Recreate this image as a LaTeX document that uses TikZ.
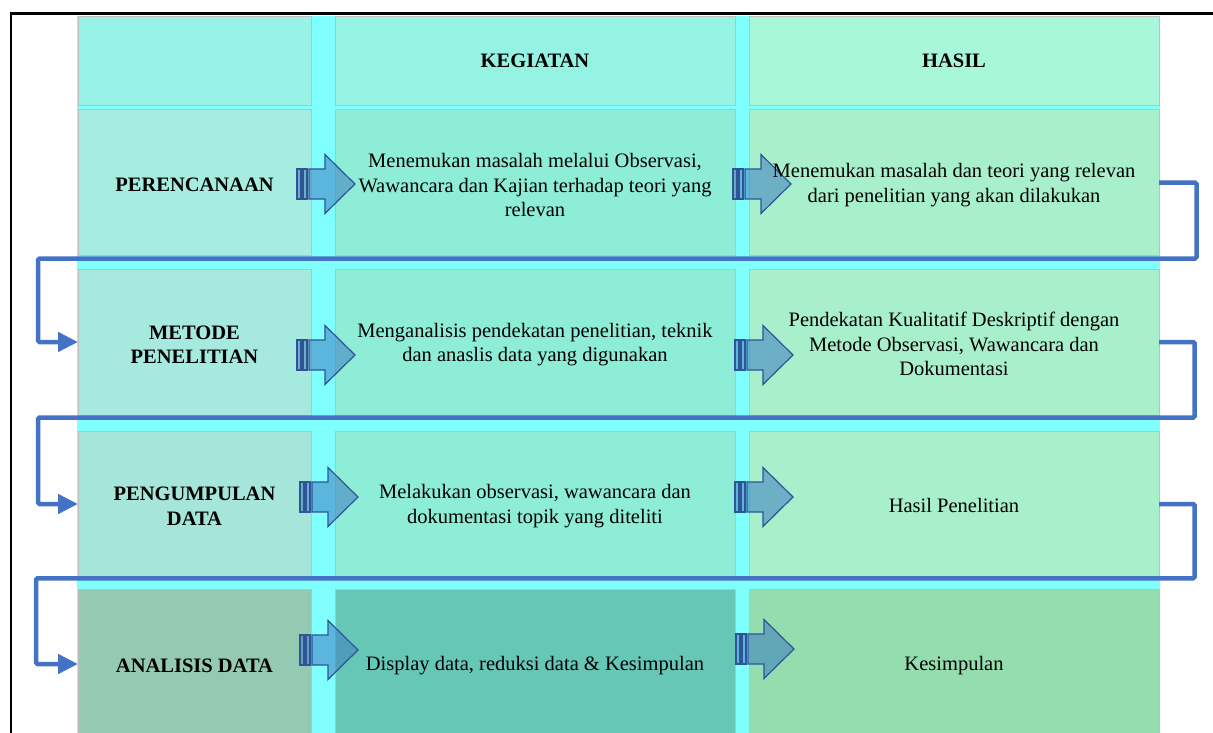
\documentclass[tikz,border=0pt]{standalone}
\usepackage{fontspec}
\setmainfont{Liberation Serif}
\usetikzlibrary{arrows.meta}
\definecolor{bgcyan}{HTML}{80FFFF}
\definecolor{hA}{HTML}{98F3E6}
\definecolor{hB}{HTML}{95F3E4}
\definecolor{hC}{HTML}{A9F7DB}
\definecolor{aA}{HTML}{A6ECE0}
\definecolor{bA}{HTML}{A6E9DF}
\definecolor{cA}{HTML}{A5E5DA}
\definecolor{mB}{HTML}{8DEDD7}
\definecolor{mC}{HTML}{A8F0CC}
\definecolor{dA}{HTML}{94CAB1}
\definecolor{dB}{HTML}{66C7B7}
\definecolor{dC}{HTML}{93DDAE}
\definecolor{connblue}{HTML}{4472C4}
\definecolor{arrfill}{HTML}{3D7AC0}
\definecolor{arrline}{HTML}{2F5597}
\newcommand{\blkarrow}[2]{%
  \draw[barr] (#1,#2-15) rectangle ++(4,30);
  \draw[barr] (#1+6,#2-15) rectangle ++(4,30);
  \draw[barr] (#1+12,#2-15) -- ++(16,0) -- ++(0,-14.5) -- (#1+58,#2)
     -- (#1+28,#2+29.5) -- ++(0,-14.5) -- (#1+12,#2+15) -- cycle;
}
\begin{document}
\begin{tikzpicture}[x=1pt,y=-1pt,
  cell/.style={draw=black!25, line width=1pt, inner sep=0pt, outer sep=0pt, anchor=north west},
  conn/.style={draw=connblue, line width=4.5pt, rounded corners=1.5pt, -{Triangle[length=20pt,width=19pt]}},
  barr/.style={draw=arrline, fill=arrfill, fill opacity=0.55, line width=1.2pt, line join=miter},
  txt/.style={font=\fontsize{20.5}{24.5}\selectfont, align=center, inner sep=0pt, text=black},
  btxt/.style={txt, font=\fontsize{20.5}{24.5}\selectfont\bfseries}]
\useasboundingbox (0,0) rectangle (1213,733);
\clip (0,0) rectangle (1213,733);
\draw[line width=2.5pt] (10.8,745) -- (10.8,13.3) -- (1225,13.3);
\fill[bgcyan] (77,16) rectangle (1160,745);
% header row
\node[cell, fill=hA, minimum width=233pt, minimum height=89pt] (c01) at (78,17) {};
\node[cell, fill=hB, minimum width=400pt, minimum height=89pt] (c02) at (335,17) {};
\node[cell, fill=hC, minimum width=410pt, minimum height=89pt] (c03) at (749,17) {};
% row 1
\node[cell, fill=aA, minimum width=233pt, minimum height=145pt] (c11) at (78,110) {};
\node[cell, fill=mB, minimum width=400pt, minimum height=145pt] (c12) at (335,110) {};
\node[cell, fill=mC, minimum width=410pt, minimum height=145pt] (c13) at (749,110) {};
% row 2
\node[cell, fill=bA, minimum width=233pt, minimum height=146pt] (c21) at (78,269) {};
\node[cell, fill=mB, minimum width=400pt, minimum height=146pt] (c22) at (335,269) {};
\node[cell, fill=mC, minimum width=410pt, minimum height=146pt] (c23) at (749,269) {};
% row 3
\node[cell, fill=cA, minimum width=233pt, minimum height=146pt] (c31) at (78,431) {};
\node[cell, fill=mB, minimum width=400pt, minimum height=146pt] (c32) at (335,431) {};
\node[cell, fill=mC, minimum width=410pt, minimum height=146pt] (c33) at (749,431) {};
% row 4
\node[cell, fill=dA, minimum width=233pt, minimum height=150pt] (c41) at (78,589) {};
\node[cell, fill=dB, minimum width=400pt, minimum height=150pt] (c42) at (335,589) {};
\node[cell, fill=dC, minimum width=410pt, minimum height=150pt] (c43) at (749,589) {};
% connectors
\coordinate (r1) at (1196.5,258.5);
\coordinate (l1) at (38,258.5);
\coordinate (r2) at (1194.7,417.5);
\coordinate (l2) at (38,417.5);
\coordinate (r3) at (1194.7,578.3);
\coordinate (l3) at (36,578.3);
\draw[conn] (c13.east) -| (r1) -- (l1) |- (c21.west);
\draw[conn] (c23.east) -| (r2) -- (l2) |- (c31.west);
\draw[conn] (c33.east) -| (r3) -- (l3) |- (c41.west);
% block arrows
\blkarrow{297}{184}
\blkarrow{733}{184}
\blkarrow{297}{355}
\blkarrow{735}{355}
\blkarrow{300}{497}
\blkarrow{735}{497}
\blkarrow{300}{650}
\blkarrow{736}{649}
% texts
\node[btxt] (t02) at ([yshift=1pt]c02.center) {KEGIATAN};
\node[btxt] (t03) at ([yshift=1pt]c03.center) {HASIL};
\node[btxt] (t11) at ([yshift=-2pt]c11.center) {PERENCANAAN};
\node[txt] (t12) at ([yshift=-2.5pt]c12.center) {Menemukan masalah melalui Observasi,\\Wawancara dan Kajian terhadap teori yang\\relevan};
\node[txt] (t13) at ([yshift=-2.5pt]c13.center) {Menemukan masalah dan teori yang relevan\\dari penelitian yang akan dilakukan};
\node[btxt] (t21) at ([yshift=-2.5pt]c21.center) {METODE\\PENELITIAN};
\node[txt] (t22) at ([yshift=-2.5pt]c22.center) {Menganalisis pendekatan penelitian, teknik\\dan anaslis data yang digunakan};
\node[txt] (t23) at ([yshift=-2pt]c23.center) {Pendekatan Kualitatif Deskriptif dengan\\Metode Observasi, Wawancara dan\\Dokumentasi};
\node[btxt] (t31) at ([yshift=-2pt]c31.center) {PENGUMPULAN\\DATA};
\node[txt] (t32) at ([yshift=-2pt]c32.center) {Melakukan observasi, wawancara dan\\dokumentasi topik yang diteliti};
\node[txt] (t33) at ([yshift=-1pt]c33.center) {Hasil Penelitian};
\node[btxt] (t41) at ([yshift=-1.5pt]c41.center) {ANALISIS DATA};
\node[txt] (t42) at ([yshift=-1.5pt]c42.center) {Display data, reduksi data \& Kesimpulan};
\node[txt] (t43) at ([yshift=-1.5pt]c43.center) {Kesimpulan};
\end{tikzpicture}
\end{document}
